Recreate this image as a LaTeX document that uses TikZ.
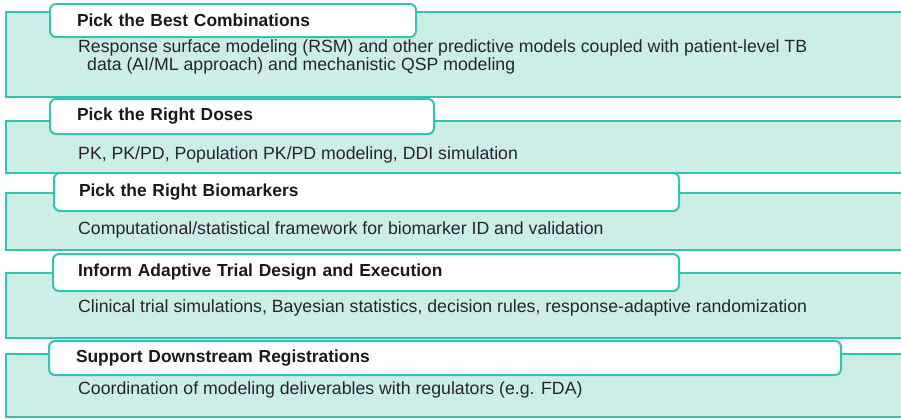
\documentclass[tikz,border=0pt]{standalone}
\usepackage{fontspec}
\setmainfont{Liberation Sans}
\definecolor{tealline}{HTML}{33C4B4}
\definecolor{tealfill}{HTML}{CDEDE7}
\begin{document}
\begin{tikzpicture}[x={(1pt,0pt)}, y={(0pt,-1pt)},
  band/.style={draw=tealline, fill=tealfill, line width=2pt},
  hdr/.style={draw=tealline, fill=white, line width=2pt, rounded corners=6pt,
    anchor=north west, inner xsep=27pt, inner ysep=0pt, align=left,
    font=\fontsize{17.4}{18}\selectfont\bfseries, text=black!90},
  body/.style={anchor=west, inner sep=0pt, align=left,
    font=\fontsize{17.7}{18}\selectfont, text=black!85}]
\useasboundingbox (0,0) rectangle (901,418);
\clip (0,0) rectangle (901,418);

% content bands (running off the right edge)
\draw[band] (6,12)  rectangle (920,97);
\draw[band] (6,121) rectangle (920,173);
\draw[band] (6,193) rectangle (920,250);
\draw[band] (6,273) rectangle (920,338);
\draw[band] (6,354) rectangle (920,417);

% title tabs
\node[hdr, text width=312pt, minimum height=33pt] (h1) at (49,3) {Pick the Best Combinations};
\node[hdr, text width=330pt, minimum height=35pt] (h2) at (49,98) {Pick the Right Doses};
\node[hdr, text width=575pt, minimum height=38pt, inner xsep=25pt] (h3) at (53,172) {Pick the Right Biomarkers};
\node[hdr, text width=576pt, minimum height=37pt, inner xsep=25pt] (h4) at (52,253) {Inform Adaptive Trial Design and Execution};
\node[hdr, text width=738pt, minimum height=34pt] (h5) at (48,340) {Support Downstream Registrations};

% descriptions
\node[body] (b1) at (78,57) {Response surface modeling (RSM) and other predictive models coupled with patient-level TB\\\hspace*{9pt}data (AI/ML approach) and mechanistic QSP modeling};
\node[body] (b2) at (78,155) {PK, PK/PD, Population PK/PD modeling, DDI simulation};
\node[body] (b3) at (78,230) {Computational/statistical framework for biomarker ID and validation};
\node[body] (b4) at (78,308) {Clinical trial simulations, Bayesian statistics, decision rules, response-adaptive randomization};
\node[body] (b5) at (78,390) {Coordination of modeling deliverables with regulators (e.g. FDA)};
\end{tikzpicture}
\end{document}
